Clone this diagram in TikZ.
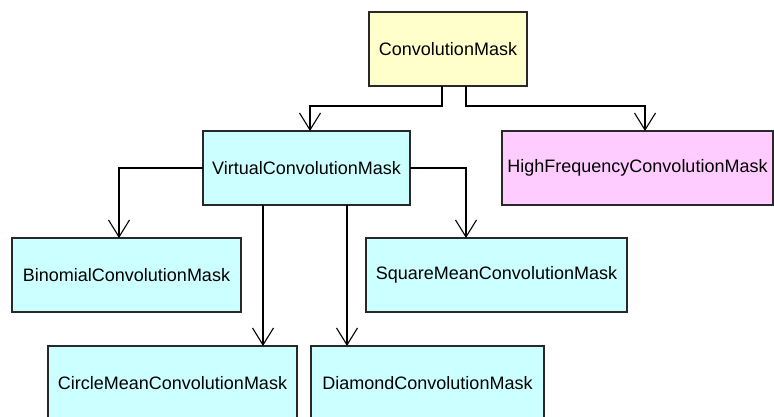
\documentclass[tikz,border=0pt]{standalone}
\usepackage{fontspec}
\setmainfont{Liberation Sans}
\usetikzlibrary{arrows.meta}
\definecolor{boxyellow}{RGB}{255,255,204}
\definecolor{boxcyan}{RGB}{204,255,255}
\definecolor{boxpink}{RGB}{255,204,255}
\definecolor{boxedge}{RGB}{40,40,40}
\tikzset{
  cls/.style={draw=boxedge, line width=1.1pt, inner sep=0pt, outer sep=0pt,
    anchor=north west, minimum height=74pt, font=\fontsize{18}{20}\selectfont},
  inherit/.style={draw=black, line width=1.1pt,
    -{Straight Barb[length=17pt,width=21pt,line width=1.1pt]}}
}
\begin{document}
\begin{tikzpicture}[x=1pt,y=-1pt]
  \useasboundingbox (0,0) rectangle (774,417);
  \clip (0,0) rectangle (774,417);
  \fill[white] (0,0) rectangle (774,417);

  % class boxes
  \node[cls, fill=boxyellow, minimum width=158pt] (CM)   at (369,12)  {ConvolutionMask};
  \node[cls, fill=boxcyan,   minimum width=207pt] (VCM)  at (203,131) {VirtualConvolutionMask};
  \node[cls, fill=boxpink,   minimum width=271pt] (HFCM) at (502,131) {HighFrequencyConvolutionMask};
  \node[cls, fill=boxcyan,   minimum width=229pt] (BCM)  at (12,238)  {BinomialConvolutionMask};
  \node[cls, fill=boxcyan,   minimum width=261pt] (SMCM) at (366,238) {SquareMeanConvolutionMask};
  \node[cls, fill=boxcyan,   minimum width=249pt] (CMCM) at (48,346)  {CircleMeanConvolutionMask};
  \node[cls, fill=boxcyan,   minimum width=233pt] (DCM)  at (311,346) {DiamondConvolutionMask};

  % generalisation links
  \draw[inherit] ([xshift=73pt]CM.south west) |- ([xshift=107pt,yshift=25pt]VCM.north west)
                 -- ([xshift=107pt]VCM.north west);
  \draw[inherit] ([xshift=97pt]CM.south west) |- ([xshift=143pt,yshift=25pt]HFCM.north west)
                 -- ([xshift=143pt]HFCM.north west);
  \draw[inherit] (VCM.west) -| ([xshift=107pt]BCM.north west);
  \draw[inherit] (VCM.east) -| ([xshift=100pt]SMCM.north west);
  \draw[inherit] ([xshift=60pt]VCM.south west) -- ([xshift=215pt]CMCM.north west);
  \draw[inherit] ([xshift=144pt]VCM.south west) -- ([xshift=36pt]DCM.north west);
\end{tikzpicture}
\end{document}
